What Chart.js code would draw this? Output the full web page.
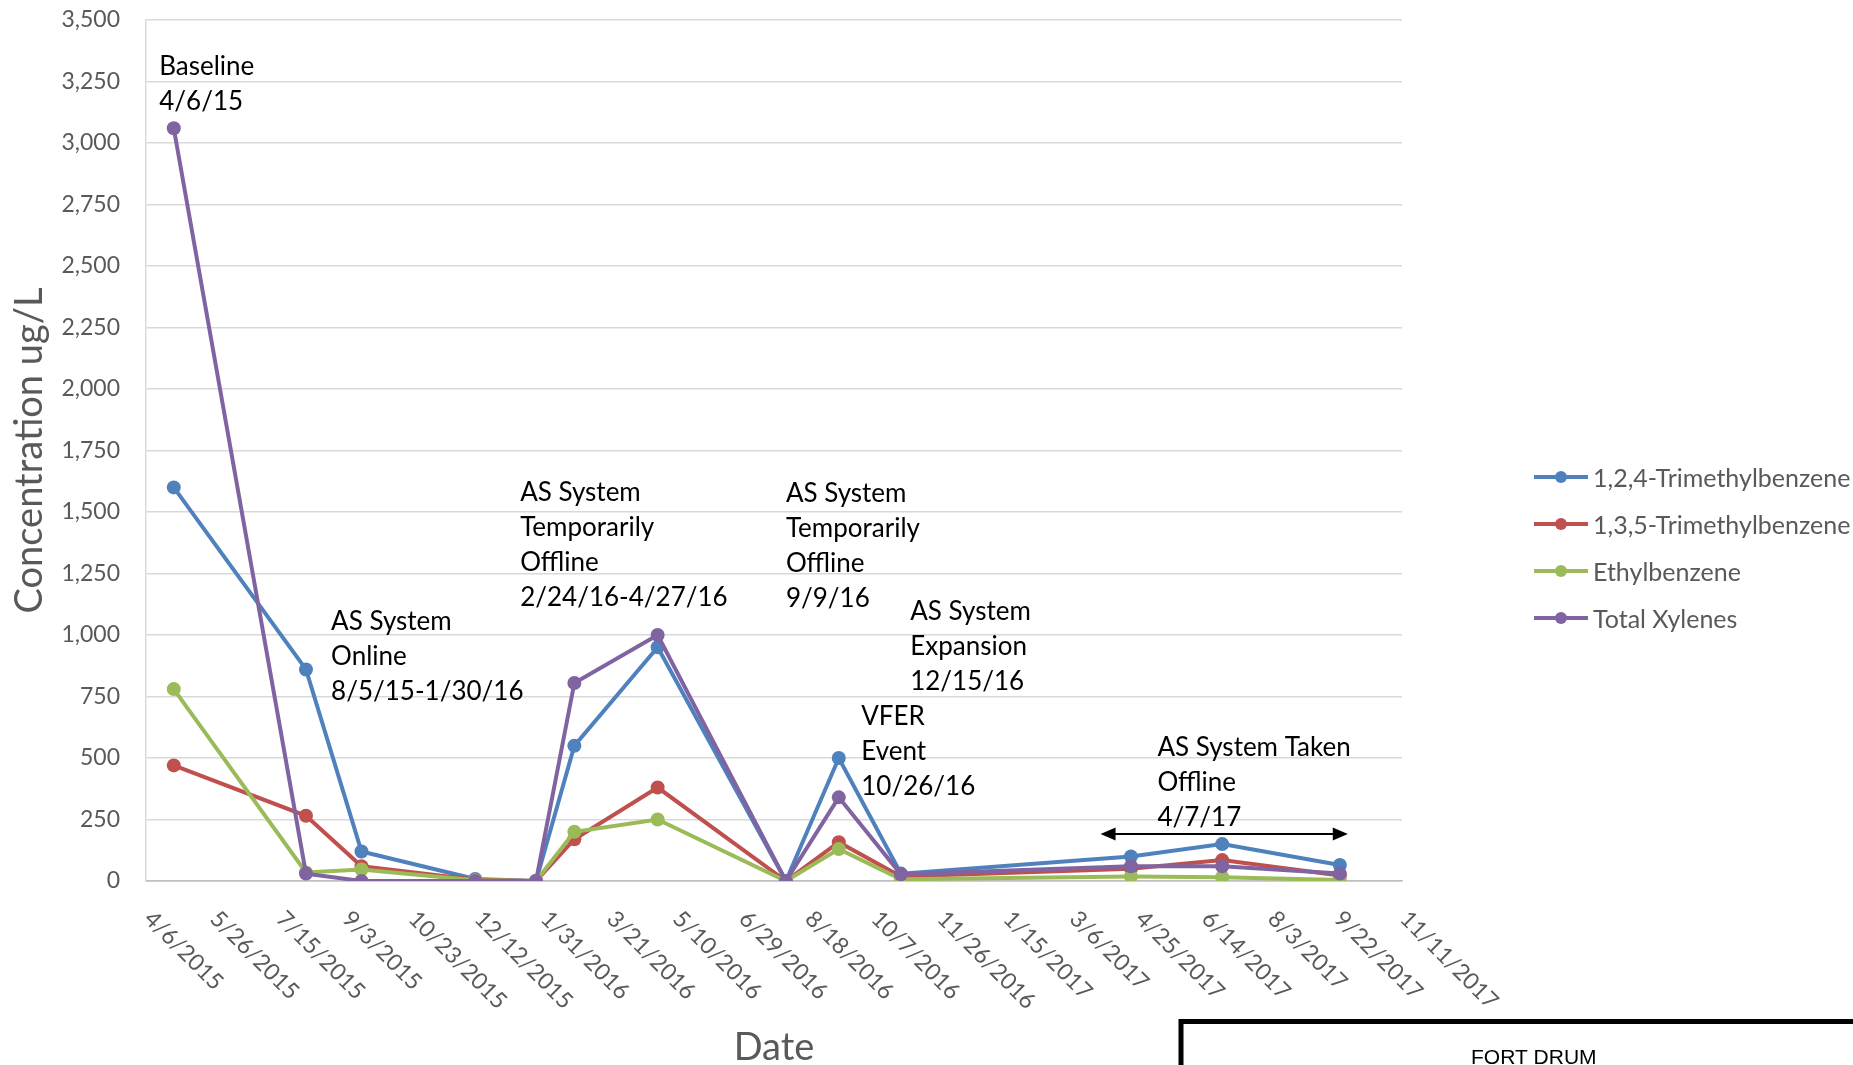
<!DOCTYPE html>
<html>
<head>
<meta charset="utf-8">
<title>Concentration vs Date</title>
<script src="https://cdn.jsdelivr.net/npm/chart.js@4.4.1/dist/chart.umd.min.js"></script>
<style>
  html, body { margin: 0; padding: 0; background: #ffffff; }
  canvas { display: block; }
</style>
</head>
<body>
<canvas id="chart" width="1853" height="1065"></canvas>
<script>
// Sampling dates (ISO) and concentrations in ug/L
const sampleDates = ['2015-04-27', '2015-08-05', '2015-09-16', '2015-12-11', '2016-01-26', '2016-02-24',
                     '2016-04-27', '2016-08-02', '2016-09-11', '2016-10-28', '2017-04-20', '2017-06-28', '2017-09-25'];
const trimethyl124 = [1600, 860, 120, 8, 0, 550, 950, 0, 500, 30, 100, 150, 65];
const trimethyl135 = [470, 265, 60, 5, 0, 170, 380, 0, 158, 18, 50, 85, 22];
const ethylbenzene = [780, 35, 47, 3, 0, 200, 250, 0, 130, 7, 18, 15, 4];
const totalXylenes = [3060, 30, 0, 0, 0, 805, 1000, 0, 340, 27, 60, 60, 30];

const seriesNames = ['1,2,4-Trimethylbenzene', '1,3,5-Trimethylbenzene', 'Ethylbenzene', 'Total Xylenes'];
const seriesValues = [trimethyl124, trimethyl135, ethylbenzene, totalXylenes];
const seriesColors = ['#4F81BD', '#C0504D', '#9BBB59', '#8064A2'];

// Axis range and tick spacing
const axisStart = '2015-04-06';
const axisEnd = '2017-11-11';
const tickStepDays = 50;
const yMax = 3500;
const yStep = 250;

// Event notes, anchored at (date, concentration) of their first text line
const eventNotes = [
  { at: '2015-04-16', level: 3276, lines: ['Baseline', '4/6/15'] },
  { at: '2015-08-24', level: 1022, lines: ['AS System', 'Online', '8/5/15-1/30/16'] },
  { at: '2016-01-14', level: 1545, lines: ['AS System', 'Temporarily', 'Offline', '2/24/16-4/27/16'] },
  { at: '2016-08-02', level: 1541, lines: ['AS System', 'Temporarily', 'Offline', '9/9/16'] },
  { at: '2016-11-04', level: 1061, lines: ['AS System', 'Expansion', '12/15/16'] },
  { at: '2016-09-28', level: 634, lines: ['VFER', 'Event', '10/26/16'] },
  { at: '2017-05-10', level: 508, lines: ['AS System Taken', 'Offline', '4/7/17'] }
];
// Period after the system was taken offline
const offlineSpan = { from: '2017-03-28', to: '2017-10-01', level: 191 };
const footerText = 'FORT DRUM';

const DAY_MS = 86400000;
const BASE_MS = Date.UTC(2015, 3, 6);
function toDay(iso) {
  const [y, m, d] = iso.split('-').map(Number);
  return Math.round((Date.UTC(y, m - 1, d) - BASE_MS) / DAY_MS);
}
function fmtDay(n) {
  const dt = new Date(BASE_MS + n * DAY_MS);
  return (dt.getUTCMonth() + 1) + '/' + dt.getUTCDate() + '/' + dt.getUTCFullYear();
}
function withCommas(v) {
  return String(v).replace(/\B(?=(\d{3})+(?!\d))/g, ',');
}

const GRAY_TEXT = '#595959';

// Date labels under the x axis, slanted downward to the right
const slantedDateLabels = {
  id: 'slantedDateLabels',
  afterDraw(chart) {
    const sx = chart.scales.x;
    const ctx = chart.ctx;
    ctx.save();
    ctx.font = '23px Lato';
    ctx.fillStyle = GRAY_TEXT;
    ctx.textAlign = 'left';
    ctx.textBaseline = 'middle';
    sx.ticks.forEach(t => {
      const px = sx.getPixelForValue(t.value);
      ctx.save();
      ctx.translate(px + 2, sx.top + 34);
      ctx.rotate(Math.PI / 4);
      ctx.fillText(fmtDay(t.value), 0, 0);
      ctx.restore();
    });
    ctx.restore();
  }
};

// Text notes and the double-headed arrow
const eventAnnotations = {
  id: 'eventAnnotations',
  afterDraw(chart) {
    const { x: sx, y: sy } = chart.scales;
    const ctx = chart.ctx;
    ctx.save();
    ctx.font = '26px Lato';
    ctx.fillStyle = '#000000';
    ctx.textAlign = 'left';
    ctx.textBaseline = 'alphabetic';
    eventNotes.forEach(n => {
      const px = sx.getPixelForValue(toDay(n.at));
      const py = sy.getPixelForValue(n.level);
      n.lines.forEach((line, i) => ctx.fillText(line, px, py + i * 35));
    });

    const x1 = sx.getPixelForValue(toDay(offlineSpan.from));
    const x2 = sx.getPixelForValue(toDay(offlineSpan.to));
    const ay = sy.getPixelForValue(offlineSpan.level);
    const head = 15, half = 6.5;
    ctx.strokeStyle = '#000000';
    ctx.lineWidth = 2;
    ctx.beginPath();
    ctx.moveTo(x1 + head - 1, ay);
    ctx.lineTo(x2 - head + 1, ay);
    ctx.stroke();
    ctx.beginPath();
    ctx.moveTo(x1, ay);
    ctx.lineTo(x1 + head, ay - half);
    ctx.lineTo(x1 + head, ay + half);
    ctx.closePath();
    ctx.moveTo(x2, ay);
    ctx.lineTo(x2 - head, ay - half);
    ctx.lineTo(x2 - head, ay + half);
    ctx.closePath();
    ctx.fill();
    ctx.restore();
  }
};

// Legend to the right of the plot, one row per series
const sideLegend = {
  id: 'sideLegend',
  afterDraw(chart, args, opts) {
    const ctx = chart.ctx;
    ctx.save();
    ctx.font = '25px Lato';
    ctx.textAlign = 'left';
    ctx.textBaseline = 'middle';
    const items = chart.data.datasets;
    items.forEach((ds, i) => {
      const y = opts.top + i * opts.rowGap;
      ctx.strokeStyle = ds.borderColor;
      ctx.lineWidth = 4;
      ctx.beginPath();
      ctx.moveTo(opts.left, y);
      ctx.lineTo(opts.left + opts.lineLen, y);
      ctx.stroke();
      ctx.fillStyle = ds.borderColor;
      ctx.beginPath();
      ctx.arc(opts.left + opts.lineLen / 2, y, 6, 0, Math.PI * 2);
      ctx.fill();
      ctx.fillStyle = GRAY_TEXT;
      ctx.fillText(ds.label, opts.left + opts.lineLen + 5, y + 2);
    });
    ctx.restore();
  }
};

// Title block frame at the lower right
const titleBlock = {
  id: 'titleBlock',
  afterDraw(chart, args, opts) {
    const ctx = chart.ctx;
    ctx.save();
    ctx.strokeStyle = '#000000';
    ctx.lineWidth = 5;
    ctx.strokeRect(opts.left, opts.top, 1000, 300);
    ctx.fillStyle = '#000000';
    ctx.font = '21px "Liberation Sans", Arial, sans-serif';
    ctx.textAlign = 'left';
    ctx.textBaseline = 'alphabetic';
    ctx.fillText(footerText, opts.textX, opts.textY);
    ctx.restore();
  }
};

function build() {
  const datasets = seriesValues.map((vals, i) => ({
    label: seriesNames[i],
    data: sampleDates.map((d, j) => ({ x: toDay(d), y: vals[j] })),
    showLine: true,
    borderColor: seriesColors[i],
    backgroundColor: seriesColors[i],
    pointBackgroundColor: seriesColors[i],
    borderWidth: 4,
    pointRadius: 7,
    pointHoverRadius: 7,
    pointBorderWidth: 0,
    tension: 0,
    order: seriesValues.length - i
  }));

  new Chart(document.getElementById('chart'), {
    type: 'scatter',
    data: { datasets },
    options: {
      responsive: false,
      animation: false,
      events: [],
      layout: { padding: { top: 20, right: 451, bottom: 0, left: 0 } },
      scales: {
        x: {
          type: 'linear',
          min: toDay(axisStart),
          max: toDay(axisEnd),
          ticks: { stepSize: tickStepDays, display: false },
          grid: { display: false, drawTicks: false },
          border: { display: true, color: '#BFBFBF', width: 1.5 },
          title: {
            display: true, text: 'Date', color: GRAY_TEXT,
            font: { family: 'Lato', size: 38, lineHeight: 0.9 }, padding: 0
          },
          afterFit: s => { s.height = 184; s.paddingLeft = 0; s.paddingRight = 0; }
        },
        y: {
          min: 0,
          max: yMax,
          ticks: {
            stepSize: yStep, color: GRAY_TEXT, padding: 26,
            font: { family: 'Lato', size: 23 },
            callback: v => withCommas(v)
          },
          grid: {
            color: c => (c.tick && c.tick.value === 0 ? '#BFBFBF' : '#D9D9D9'),
            lineWidth: 1.5,
            drawTicks: false
          },
          border: { display: true, color: '#D9D9D9', width: 1.5 },
          title: {
            display: true, text: 'Concentration ug/L', color: GRAY_TEXT,
            font: { family: 'Lato', size: 38, lineHeight: 1.05 }, padding: { top: 10 }
          },
          afterFit: s => { s.width = 146; s.paddingTop = 0; s.paddingBottom = 0; }
        }
      },
      plugins: {
        legend: { display: false },
        tooltip: { enabled: false },
        sideLegend: { left: 1534, lineLen: 54, top: 477, rowGap: 47 },
        titleBlock: { left: 1181, top: 1021.5, textX: 1471, textY: 1064 }
      }
    },
    plugins: [slantedDateLabels, eventAnnotations, sideLegend, titleBlock]
  });
}

const fontsToLoad = ['23px Lato', '25px Lato', '26px Lato', '38px Lato', '21px "Liberation Sans"'];
Promise.all(fontsToLoad.map(f => document.fonts.load(f)))
  .catch(() => {})
  .then(build);
</script>
</body>
</html>
